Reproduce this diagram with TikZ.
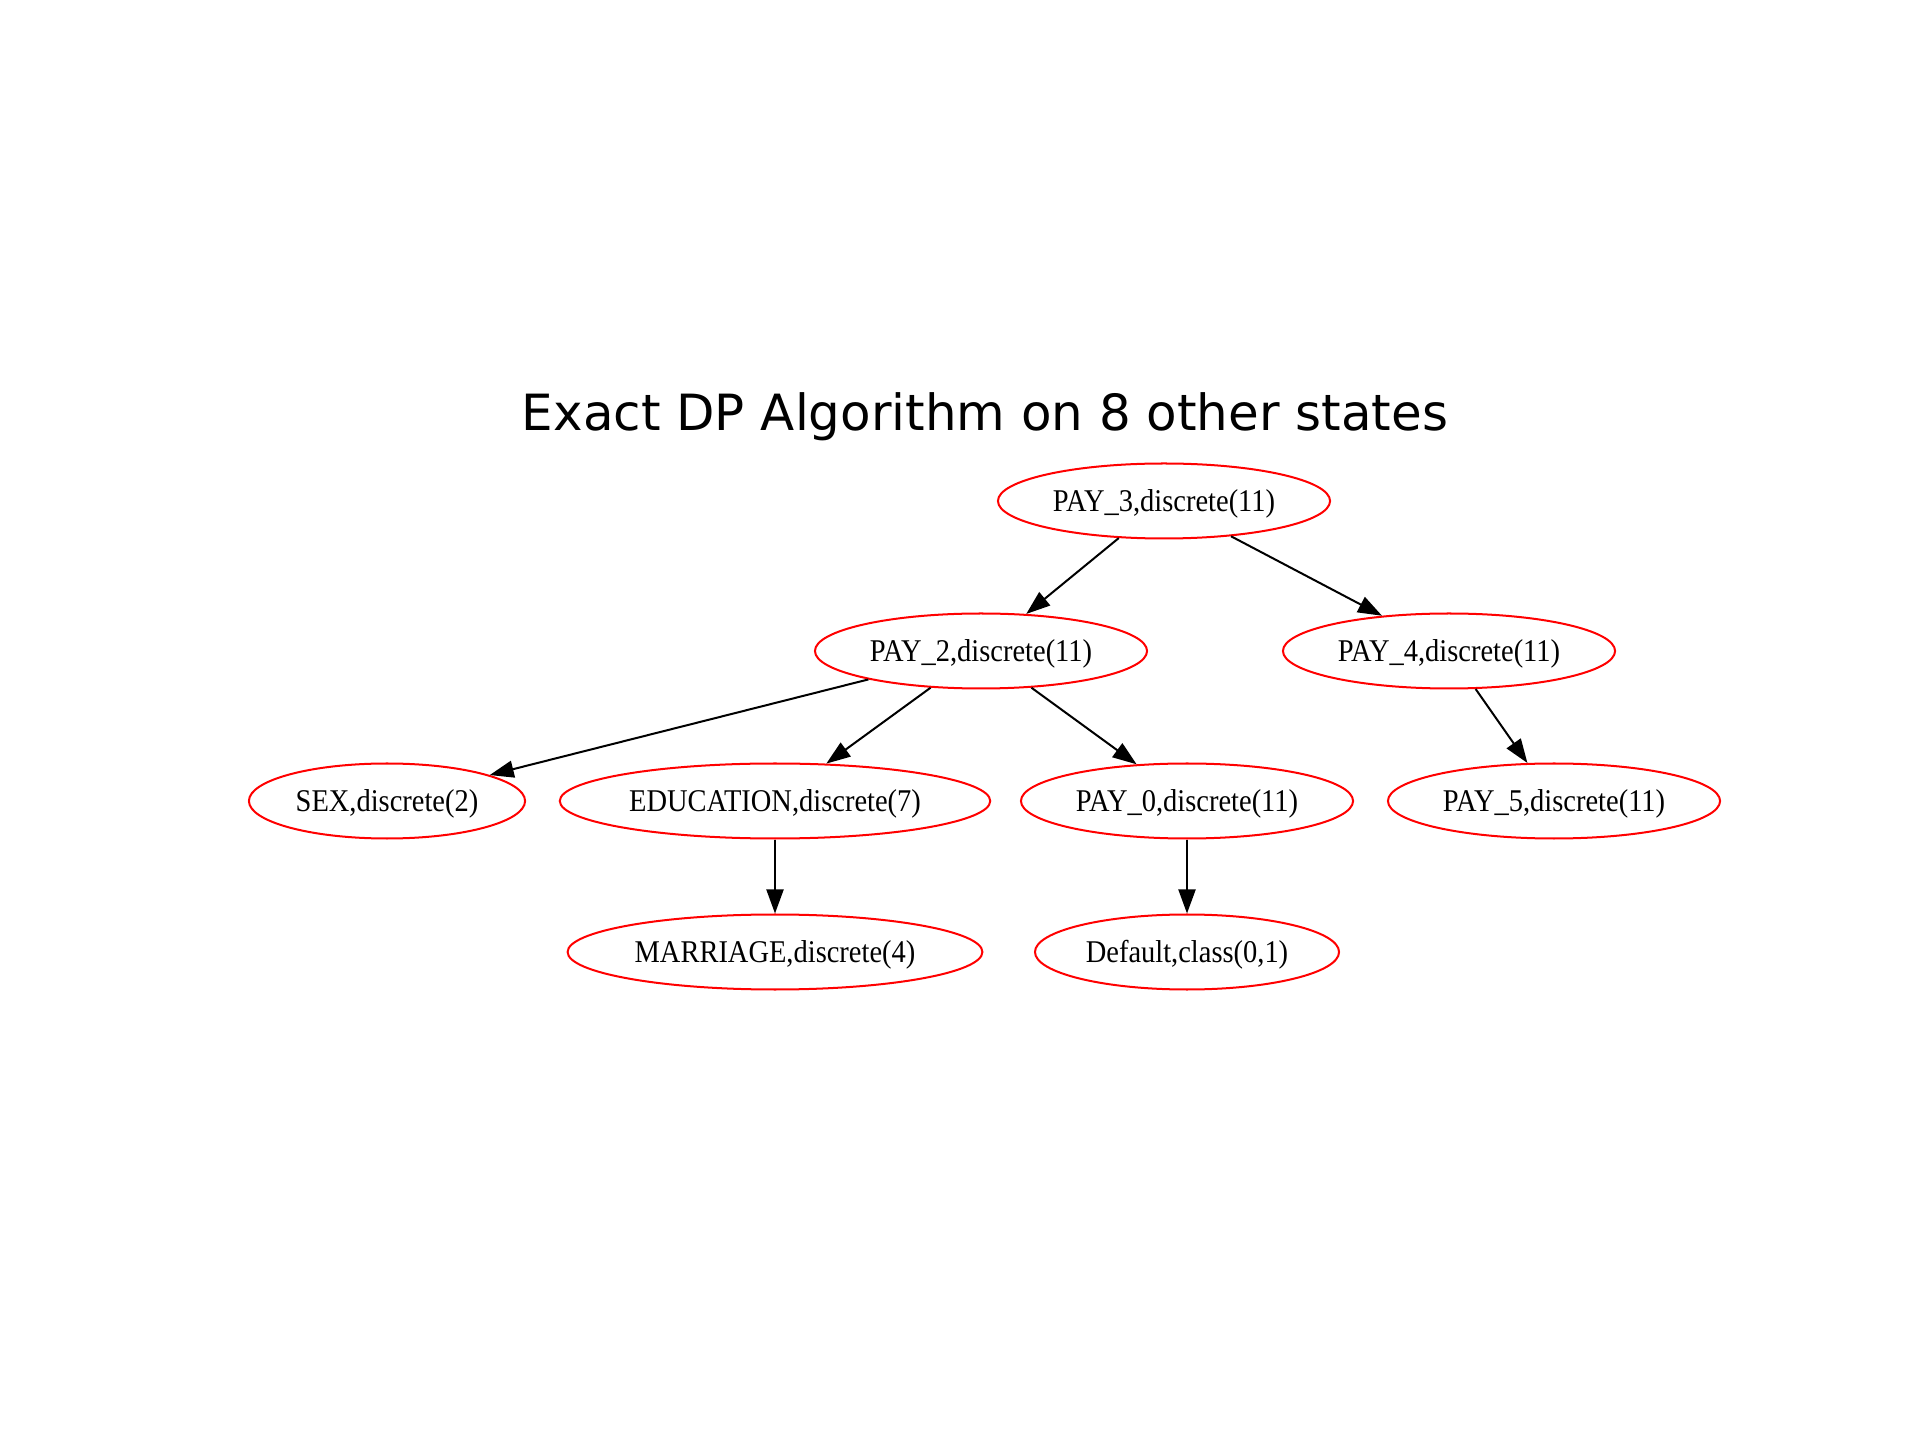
\documentclass[tikz,border=0pt]{standalone}
\usepackage{fontspec}
\usetikzlibrary{shapes.geometric,arrows.meta}
\newfontfamily\nodefont[FakeStretch=0.9]{Liberation Serif}
\newfontfamily\titlefont{DejaVu Sans}

\begin{document}
\begin{tikzpicture}[
        % 節點樣式:紅框、白底、橢圓
        vertex/.style={
            ellipse,
            draw=red,
            fill=white,           % 白色填充
            line width=0.57pt,
            minimum height=0.75cm, % 橢圓高度
            inner xsep=1.8pt,
            inner ysep=0pt,
            text height=7pt,      % 文字稍微往下移
            text depth=1.3pt,
            font=\nodefont\fontsize{9}{9}\selectfont
        },
        % 連線樣式
        arrow_line/.style={
            draw,
            black,
            line width=0.57pt,
            -{Triangle[length=0.24cm, width=0.17cm]}
        },
        % 標題文字樣式
        title_text/.style={
            font=\titlefont\fontsize{14.2}{17}\selectfont,
            anchor=base
        }
    ]

        % 固定畫面大小
        \useasboundingbox (0,0) rectangle (19.2,14.4);

        % --- 標題 ---
        \node[title_text] (title) at (9.85,10.09) {Exact DP Algorithm on 8 other states};

        % --- 第一層 ---
        \node[vertex] (pay3) at (11.64,9.39) {PAY\_3,discrete(11)};

        % --- 第二層 ---
        \node[vertex] (pay2) at (9.81,7.89) {PAY\_2,discrete(11)};
        \node[vertex] (pay4) at (14.49,7.89) {PAY\_4,discrete(11)};

        % --- 第三層 ---
        \node[vertex] (sex) at (3.87,6.39) {SEX,discrete(2)};
        \node[vertex] (education) at (7.75,6.39) {EDUCATION,discrete(7)};
        \node[vertex] (pay0) at (11.87,6.39) {PAY\_0,discrete(11)};
        \node[vertex] (pay5) at (15.54,6.39) {PAY\_5,discrete(11)};

        % --- 第四層 ---
        \node[vertex] (marriage) at (7.75,4.88) {MARRIAGE,discrete(4)};
        \node[vertex] (default) at (11.87,4.88) {Default,class(0,1)};

        % --- 連線 ---
        \draw[arrow_line] (pay3) -- (pay2);
        \draw[arrow_line] (pay3) -- (pay4);
        \draw[arrow_line] (pay2) -- (sex);
        \draw[arrow_line] (pay2) -- (education);
        \draw[arrow_line] (pay2) -- (pay0);
        \draw[arrow_line] (pay4) -- (pay5);
        \draw[arrow_line] (education) -- (marriage);
        \draw[arrow_line] (pay0) -- (default);
    \end{tikzpicture}
\end{document}
